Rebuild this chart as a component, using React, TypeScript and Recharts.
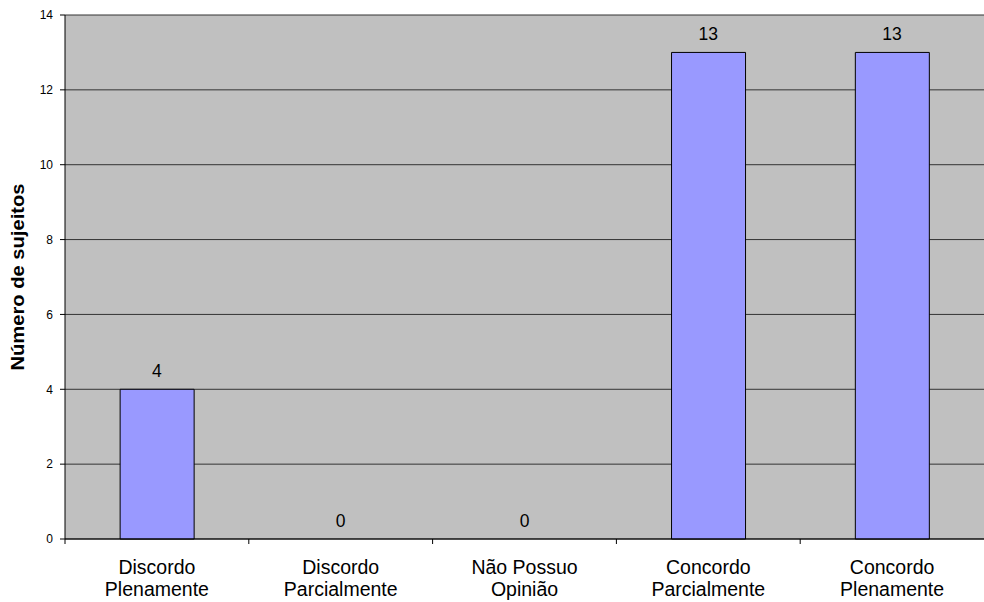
import { ComposedChart, Bar, Line, XAxis, YAxis, CartesianGrid, LabelList } from 'recharts'

const categories = [
  ['Discordo', 'Plenamente'],
  ['Discordo', 'Parcialmente'],
  ['Não Possuo', 'Opinião'],
  ['Concordo', 'Parcialmente'],
  ['Concordo', 'Plenamente'],
]
const counts = [4, 0, 0, 13, 13]
const yTicks = [0, 2, 4, 6, 8, 10, 12, 14]

const data = categories.map((lines, i) => ({ name: lines.join(' '), lines, value: counts[i] }))

const font = '"Liberation Sans", Arial, sans-serif'

function CategoryTick(props: any) {
  const { x, y, payload, index } = props
  const half = payload.offset ?? 0
  const lines = data[index]?.lines ?? [String(payload.value)]
  return (
    <g>
      <line x1={x - half} x2={x - half} y1={y - 8} y2={y - 3} stroke="#000" />
      <text x={x} y={y + 27} textAnchor="middle" fontSize={19.5} fontFamily={font} fill="#000">
        {lines.map((l: string, k: number) => (
          <tspan key={k} x={x} dy={k === 0 ? 0 : 22}>
            {l}
          </tspan>
        ))}
      </text>
    </g>
  )
}

function AxisTitle(props: any) {
  const { viewBox } = props
  const cx = viewBox.x + 18
  const cy = viewBox.y + viewBox.height / 2
  return (
    <text
      x={cx}
      y={cy}
      transform={`rotate(-90 ${cx} ${cy})`}
      textAnchor="middle"
      dominantBaseline="central"
      fontSize={18}
      fontWeight="bold"
      fontFamily={font}
      fill="#000"
      textLength={187}
      lengthAdjust="spacingAndGlyphs"
    >
      Número de sujeitos
    </text>
  )
}

export default function App() {
  return (
    <div style={{ position: 'absolute', left: 0, top: 0, width: 984, height: 602, background: '#fff' }}>
      <ComposedChart
        width={984}
        height={602}
        data={data}
        margin={{ top: 15, right: 0, left: 0, bottom: 0 }}
        barCategoryGap="30%"
      >
        <CartesianGrid vertical={false} stroke="#333" fill="#c0c0c0" fillOpacity={1} />
        <XAxis
          dataKey="name"
          height={63}
          axisLine={{ stroke: '#000' }}
          tickLine={false}
          tick={<CategoryTick />}
          interval={0}
        />
        <YAxis
          domain={[0, 14]}
          ticks={yTicks}
          width={65}
          axisLine={{ stroke: '#000' }}
          tickLine={{ stroke: '#000' }}
          tickSize={5}
          tickMargin={7}
          tick={{ fontSize: 12, fill: '#000', fontFamily: font }}
          label={{ content: <AxisTitle /> }}
        />
        <Bar dataKey="value" fill="#9999ff" stroke="#000" strokeWidth={1} isAnimationActive={false} />
        <Line
          dataKey="value"
          stroke="none"
          dot={false}
          activeDot={false}
          legendType="none"
          isAnimationActive={false}
        >
          <LabelList
            dataKey="value"
            position="top"
            offset={12}
            style={{ fontSize: 17.5, fill: '#000', fontFamily: font }}
          />
        </Line>
      </ComposedChart>
    </div>
  )
}
